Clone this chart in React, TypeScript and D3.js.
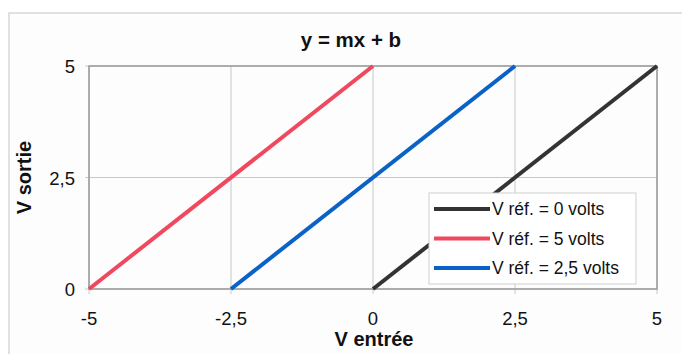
import React from "react";
import * as d3 from "d3";

const title = "y = mx + b";
const xLabel = "V entrée";
const yLabel = "V sortie";
const xTicks = [-5, -2.5, 0, 2.5, 5];
const yTicks = [0, 2.5, 5];
const seriesNames = ["V réf. = 0 volts", "V réf. = 5 volts", "V réf. = 2,5 volts"];
const seriesColors = ["#333333", "#f0485e", "#0a62c6"];
const seriesX = [
  [0, 5],
  [-5, 0],
  [-2.5, 2.5],
];
const seriesY = [
  [0, 5],
  [0, 5],
  [0, 5],
];

const fmt = (v: number) => String(v).replace(".", ",");

export default function App() {
  const W = 682, H = 354;
  const x = d3.scaleLinear().domain([-5, 5]).range([89, 657]);
  const y = d3.scaleLinear().domain([0, 5]).range([289, 66]);
  const line = d3.line<[number, number]>().x(d => x(d[0])).y(d => y(d[1]));
  const font = "Arial, 'Liberation Sans', sans-serif";
  const lg = { x: 429, y: 193, w: 207, h: 91 };
  return (
    <svg width={W} height={H} style={{ position: "absolute", left: 0, top: 0, background: "#fff" }} fontFamily={font}>
      <rect x={0} y={0} width={W} height={H} fill="#fff" />
      <rect x={9} y={13} width={W} height={H} fill="#fdfdfd" stroke="#d8d8d8" strokeWidth={1.5} />
      <text x={351} y={47} textAnchor="middle" fontWeight="bold" fontSize={20.5} fill="#111">{title}</text>
      {/* grid */}
      {xTicks.map(t => (
        <line key={"gx" + t} x1={x(t)} x2={x(t)} y1={y(5)} y2={y(0) + 5} stroke="#c8c8c8" strokeWidth={1} />
      ))}
      {yTicks.map(t => (
        <line key={"gy" + t} x1={x(-5) - 4} x2={x(5)} y1={y(t)} y2={y(t)} stroke="#c8c8c8" strokeWidth={1} />
      ))}
      <rect x={x(-5)} y={y(5)} width={x(5) - x(-5)} height={y(0) - y(5)} fill="none" stroke="#9a9a9a" strokeWidth={1.5} />
      {/* series */}
      {seriesX.map((xs, i) => (
        <path key={"s" + i}
          d={line(xs.map((v, j) => [v, seriesY[i][j]] as [number, number])) || ""}
          fill="none" stroke={seriesColors[i]} strokeWidth={4} />
      ))}
      {/* tick labels */}
      {xTicks.map(t => (
        <text key={"tx" + t} x={x(t)} y={325} textAnchor="middle" fontSize={18.5} fill="#111">{fmt(t)}</text>
      ))}
      {yTicks.map(t => (
        <text key={"ty" + t} x={75} y={y(t) + 7} textAnchor="end" fontSize={18.5} fill="#111">{fmt(t)}</text>
      ))}
      <text x={374} y={346} textAnchor="middle" fontWeight="bold" fontSize={20} fill="#111">{xLabel}</text>
      <text transform={`translate(31,${y(2.5)}) rotate(-90)`} textAnchor="middle" fontWeight="bold" fontSize={20} fill="#111">{yLabel}</text>
      {/* legend */}
      <rect x={lg.x} y={lg.y} width={lg.w} height={lg.h} fill="#fff" stroke="#cfcfcf" strokeWidth={1} />
      {seriesNames.map((n, i) => {
        const cy = 209 + i * 29.5;
        return (
          <g key={"l" + i}>
            <line x1={434} x2={490} y1={cy} y2={cy} stroke={seriesColors[i]} strokeWidth={4} />
            <text x={492} y={cy + 6} fontSize={17.5} fill="#111">{n}</text>
          </g>
        );
      })}
    </svg>
  );
}
